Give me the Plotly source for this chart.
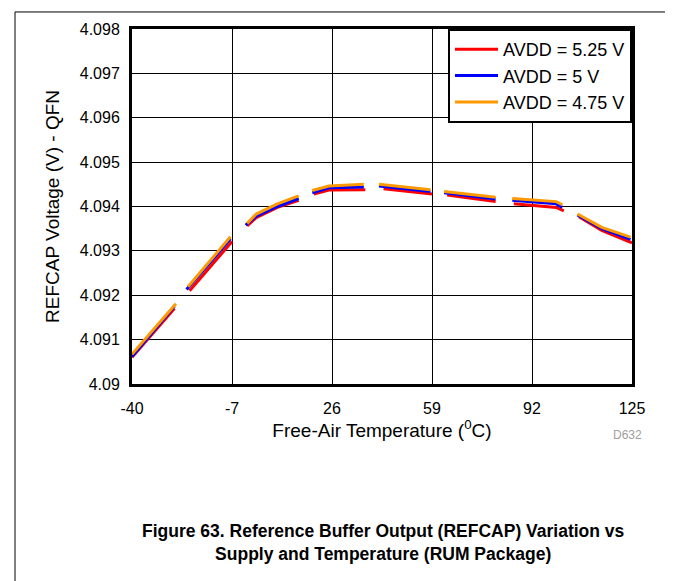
import plotly.graph_objects as go

# Temperatures (°C) with None marking gaps between measured segments
temp_red = [-40, -26, None, -21, -7, None, -2, 1, 8, 15, None, 20, 25, 37, None,
            43, 59, None, 64, 80, None, 86, 100, 102.5, None, 107.5, 115, 125]
v_red = [4.09060, 4.09170, None, 4.09210, 4.09321, None, 4.09356, 4.09375, 4.09398, 4.09414, None,
         4.09428, 4.09437, 4.09438, None, 4.09440, 4.09428, None, 4.09426, 4.09411, None,
         4.09406, 4.09398, 4.09390, None, 4.09377, 4.09346, 4.09318]

temp_blue = [-40, -26, None, -22, -7.5, None, -2.5, 1, 8, 15, None, 19.5, 25, 36.5, None,
             41.5, 58.5, None, 63, 80, None, 85.5, 100, 102, None, 107, 115, 124.5]
v_blue = [4.09062, 4.09175, None, 4.09213, 4.09327, None, 4.09358, 4.09378, 4.09400, 4.09418, None,
          4.09431, 4.09442, 4.09444, None, 4.09446, 4.09434, None, 4.09431, 4.09417, None,
          4.09414, 4.09406, 4.09398, None, 4.09381, 4.09350, 4.09326]

temp_orange = [-40, -25.5, None, -21.5, -7.5, None, -2, 1, 8, 15, None, 19.5, 25, 36.5, None,
               41.5, 58.5, None, 63, 80, None, 85.5, 100, 102, None, 107, 115, 124.5]
v_orange = [4.09067, 4.09181, None, 4.09219, 4.09332, None, 4.09362, 4.09383, 4.09406, 4.09424, None,
            4.09436, 4.09446, 4.09450, None, 4.09450, 4.09438, None, 4.09434, 4.09421, None,
            4.09418, 4.09411, 4.09404, None, 4.09383, 4.09353, 4.09331]

x_ticks = [-40, -7, 26, 59, 92, 125]
y_ticks = [4.090, 4.091, 4.092, 4.093, 4.094, 4.095, 4.096, 4.097, 4.098]
y_ticklabels = ["4.09", "4.091", "4.092", "4.093", "4.094", "4.095", "4.096", "4.097", "4.098"]

FONT = "Liberation Sans, Arial, sans-serif"

fig = go.Figure()
fig.add_trace(go.Scatter(x=temp_red, y=v_red, mode="lines", name="AVDD = 5.25 V",
                         line=dict(color="#ff0000", width=3), connectgaps=False))
fig.add_trace(go.Scatter(x=temp_blue, y=v_blue, mode="lines", name="AVDD = 5 V",
                         line=dict(color="#0000ff", width=3), connectgaps=False))
fig.add_trace(go.Scatter(x=temp_orange, y=v_orange, mode="lines", name="AVDD = 4.75 V",
                         line=dict(color="#ff9900", width=3), connectgaps=False))

fig.update_layout(
    width=673, height=581,
    margin=dict(l=124, r=49, t=21, b=205),
    paper_bgcolor="white", plot_bgcolor="white",
    font=dict(family=FONT, size=16, color="black"),
    showlegend=True,
    legend=dict(x=1, y=1, xanchor="right", yanchor="top",
                bgcolor="white", bordercolor="black", borderwidth=2,
                font=dict(size=18), tracegroupgap=0, itemwidth=43),
    xaxis=dict(range=[-40, 125], tickvals=x_ticks, ticktext=[str(t) for t in x_ticks],
               showgrid=True, gridcolor="black", gridwidth=1, zeroline=False,
               showline=True, linecolor="black", linewidth=3, mirror=True,
               ticks="outside", ticklen=8, tickcolor="rgba(0,0,0,0)",
               title=dict(text="Free-Air Temperature (<sup>0</sup>C)", standoff=5)),
    yaxis=dict(range=[4.090, 4.098], tickvals=y_ticks, ticktext=y_ticklabels,
               showgrid=True, gridcolor="black", gridwidth=1, zeroline=False,
               showline=True, linecolor="black", linewidth=3, mirror=True,
               ticks="outside", ticklen=6, tickcolor="rgba(0,0,0,0)",
               title=dict(text="REFCAP Voltage (V) - QFN", standoff=16)),
)

# figure frame (top and left edges)
fig.add_shape(type="line", xref="paper", yref="paper", x0=-0.234, x1=1.2, y0=1.048, y1=1.048,
              line=dict(color="black", width=1))
fig.add_shape(type="line", xref="paper", yref="paper", x0=-0.234, x1=-0.234, y0=1.048, y1=-0.7,
              line=dict(color="black", width=1))

fig.add_annotation(text="D632", xref="paper", yref="paper", x=1.024, y=-0.168,
                   showarrow=False, font=dict(size=12, color="#a0a0a0"))
fig.add_annotation(text="<b>Figure 63. Reference Buffer Output (REFCAP) Variation vs</b><br>"
                        "<b>Supply and Temperature (RUM Package)</b>",
                   xref="paper", yref="paper", x=0.502, y=-0.447, yanchor="middle",
                   showarrow=False, font=dict(size=17.5, color="black"))

fig.write_html("out.html")
